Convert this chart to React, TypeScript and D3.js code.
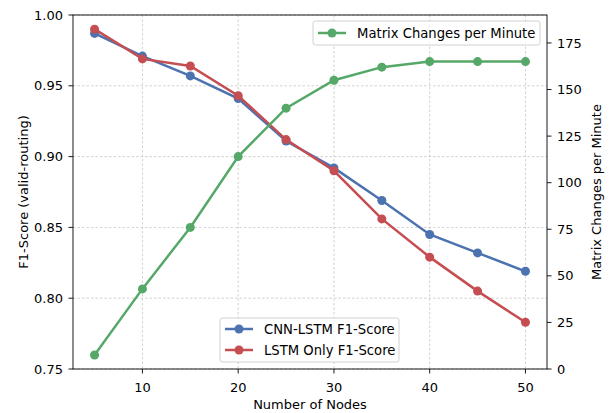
import * as d3 from "d3";

const nodes = [5, 10, 15, 20, 25, 30, 35, 40, 45, 50];
const cnnLstm = [0.987, 0.971, 0.957, 0.941, 0.911, 0.892, 0.869, 0.845, 0.832, 0.819];
const lstmOnly = [0.990, 0.969, 0.964, 0.943, 0.912, 0.890, 0.856, 0.829, 0.805, 0.783];
const matrixChanges = [7.5, 43, 76, 114, 140, 155, 162, 165, 165, 165];
const xTicks = [10, 20, 30, 40, 50];
const leftTicks = [0.75, 0.8, 0.85, 0.9, 0.95, 1.0];
const rightTicks = [0, 25, 50, 75, 100, 125, 150, 175];

const BLUE = "#4C72B0";
const RED = "#C44E52";
const GREEN = "#55A868";
const FONT = "DejaVu Sans, sans-serif";

const margin = { top: 15, right: 66, bottom: 44, left: 73 };
const W = 613;
const H = 413;
const iw = W - margin.left - margin.right;
const ih = H - margin.top - margin.bottom;

const App = () => {
  const x = d3.scaleLinear().domain([2.75, 52.25]).range([0, iw]);
  const yL = d3.scaleLinear().domain([0.75, 1.0]).range([ih, 0]);
  const yR = d3.scaleLinear().domain([0, 190]).range([ih, 0]);

  const lineL = (vals: number[]) =>
    d3.line<number>().x((_, i) => x(nodes[i])).y((d) => yL(d))(vals) || "";
  const lineR = d3
    .line<number>()
    .x((_, i) => x(nodes[i]))
    .y((d) => yR(d))(matrixChanges) || "";

  const series = [
    { color: BLUE, path: lineL(cnnLstm), ys: cnnLstm.map((v) => yL(v)) },
    { color: RED, path: lineL(lstmOnly), ys: lstmOnly.map((v) => yL(v)) },
  ];

  const legendItem = (lx: number, ly: number, color: string, label: string) => (
    <g key={label}>
      <line x1={lx} x2={lx + 28} y1={ly} y2={ly} stroke={color} strokeWidth={2.5} />
      <circle cx={lx + 14} cy={ly} r={4.5} fill={color} />
      <text x={lx + 39} y={ly} dy="0.35em" fontSize={13.2} fill="#000">
        {label}
      </text>
    </g>
  );

  return (
    <svg width={W} height={H} style={{ position: "absolute", left: 0, top: 0, fontFamily: FONT }}>
      <rect width={W} height={H} fill="#fff" />
      <g transform={`translate(${margin.left},${margin.top})`}>
        {/* grid */}
        {xTicks.map((t) => (
          <line key={"gx" + t} x1={x(t)} x2={x(t)} y1={0} y2={ih} stroke="#b0b0b0" strokeWidth={0.8} strokeDasharray="2.5,2" opacity={0.7} />
        ))}
        {leftTicks.map((t) => (
          <line key={"gy" + t} x1={0} x2={iw} y1={yL(t)} y2={yL(t)} stroke="#b0b0b0" strokeWidth={0.8} strokeDasharray="2.5,2" opacity={0.7} />
        ))}

        {/* F1 lines */}
        {series.map((s) => (
          <g key={s.color}>
            <path d={s.path} fill="none" stroke={s.color} strokeWidth={2.5} />
            {s.ys.map((yy, i) => (
              <circle key={i} cx={x(nodes[i])} cy={yy} r={4.5} fill={s.color} />
            ))}
          </g>
        ))}

        {/* matrix changes */}
        <path d={lineR} fill="none" stroke={GREEN} strokeWidth={2.5} />
        {matrixChanges.map((v, i) => (
          <circle key={i} cx={x(nodes[i])} cy={yR(v)} r={4.5} fill={GREEN} />
        ))}

        {/* spines */}
        <rect x={0} y={0} width={iw} height={ih} fill="none" stroke="#000" strokeWidth={0.9} />

        {/* x axis */}
        {xTicks.map((t) => (
          <g key={"xt" + t} transform={`translate(${x(t)},${ih})`}>
            <line y2={4.5} stroke="#000" strokeWidth={0.9} />
            <text y={18} textAnchor="middle" fontSize={13} dy="0.35em">
              {t}
            </text>
          </g>
        ))}
        <text x={iw / 2} y={ih + 40} textAnchor="middle" fontSize={13}>
          Number of Nodes
        </text>

        {/* left axis */}
        {leftTicks.map((t) => (
          <g key={"yl" + t} transform={`translate(0,${yL(t)})`}>
            <line x2={-4.5} stroke="#000" strokeWidth={0.9} />
            <text x={-10} textAnchor="end" fontSize={13} dy="0.35em">
              {t.toFixed(2)}
            </text>
          </g>
        ))}
        <text transform={`translate(${-45},${ih / 2}) rotate(-90)`} textAnchor="middle" fontSize={13}>
          F1-Score (valid-routing)
        </text>

        {/* right axis */}
        {rightTicks.map((t) => (
          <g key={"yr" + t} transform={`translate(${iw},${yR(t)})`}>
            <line x2={4.5} stroke="#000" strokeWidth={0.9} />
            <text x={10} textAnchor="start" fontSize={13} dy="0.35em">
              {t}
            </text>
          </g>
        ))}
        <text transform={`translate(${iw + 54},${ih / 2}) rotate(-90)`} textAnchor="middle" fontSize={13}>
          Matrix Changes per Minute
        </text>

        {/* legend top right */}
        <rect x={240} y={6} width={227} height={24} rx={2.5} fill="#fff" fillOpacity={0.8} stroke="#cccccc" strokeWidth={0.9} />
        {legendItem(245, 18, GREEN, "Matrix Changes per Minute")}

        {/* legend bottom */}
        <rect x={147} y={303} width={179} height={44} rx={2.5} fill="#fff" fillOpacity={0.8} stroke="#cccccc" strokeWidth={0.9} />
        {legendItem(152, 314, BLUE, "CNN-LSTM F1-Score")}
        {legendItem(152, 335, RED, "LSTM Only F1-Score")}
      </g>
    </svg>
  );
};

export default App;
